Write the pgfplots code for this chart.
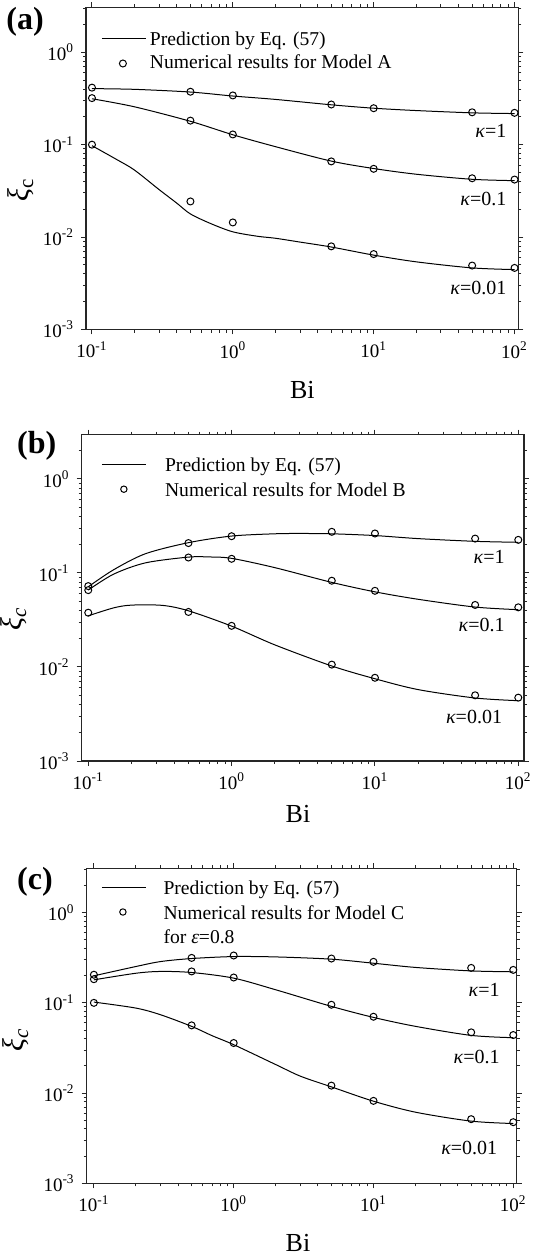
\documentclass[border=0pt]{standalone}
\usepackage{fontspec}
\setmainfont{Liberation Serif}
\usepackage{pgfplots}
\pgfplotsset{compat=1.18}

\pgfplotsset{
 every axis/.append style={
  scale only axis, anchor=south west,
  ymin=0.001,
  xtick={0.1,1,10,100},
  xticklabels={10\textsuperscript{-1},10\textsuperscript{0},10\textsuperscript{1},10\textsuperscript{2}},
  ytick={0.001,0.01,0.1,1},
  yticklabels={10\textsuperscript{-3},10\textsuperscript{-2},10\textsuperscript{-1},10\textsuperscript{0}},
  minor xtick={0.2,0.3,0.4,0.5,0.6,0.7,0.8,0.9,2,3,4,5,6,7,8,9,20,30,40,50,60,70,80,90},
  minor ytick={0.002,0.003,0.004,0.005,0.006,0.007,0.008,0.009,0.02,0.03,0.04,0.05,0.06,0.07,0.08,0.09,0.2,0.3,0.4,0.5,0.6,0.7,0.8,0.9,2,3},
  tick align=outside, major tick length=2.5pt, minor tick length=1.5pt,
  tick style={black!85, line width=0.5pt},
  tick label style={font=\fontsize{9.5}{10}\selectfont},
  axis line style={line width=0.8pt, black!85},
  legend cell align=left,
  legend style={draw=none, fill=none, anchor=north west, inner sep=0pt,
    font=\fontsize{9.8}{11}\selectfont,
    nodes={inner sep=0pt, text height=8pt, text depth=1pt}},
 },
 curve/.style={black, line width=0.5pt, smooth, forget plot},
 pts/.style={only marks, mark=o, mark size=1.75pt, mark options={black, line width=0.5pt, fill=white}, forget plot},
}

\begin{document}
\begin{tikzpicture}
\begin{scope}[x=0.5pt,y=-0.5pt]
\path[use as bounding box] (0,0) rectangle (528,1256);
\end{scope}

% ---------------- panel (a)
\begin{loglogaxis}[at={(43pt,-164.75pt)}, width=216.25pt, height=161pt,
  xmin=0.0907, xmax=106.7, ymax=3.05,
  legend style={at={(0.0347,0.9317)}, row sep=2.5pt}]
\addlegendimage{legend image code/.code={\draw[black,line width=0.5pt] (0pt,0pt) -- (22pt,0pt); \path[draw=none,fill=none] (0pt,0pt) -- (24pt,0pt);}}
\addlegendentry{Prediction by Eq. (57)}
\addlegendimage{legend image code/.code={\path[draw=none,fill=none] (0pt,0pt) -- (24pt,0pt); \path[draw=none] plot[only marks, mark=o, mark size=1.75pt, mark options={draw=black, line width=0.5pt, fill=white}] coordinates {(10.5pt,-0.8pt)};}}
\addlegendentry{Numerical results for Model A}
\addplot[curve] coordinates {(0.1,0.404) (0.2,0.397) (0.5,0.371) (1,0.336) (2,0.309) (5,0.270) (10,0.248) (20,0.234) (50,0.221) (100,0.217)};
\addplot[curve] coordinates {(0.1,0.314) (0.2,0.257) (0.5,0.179) (1,0.128) (2,0.0953) (5,0.0664) (10,0.0552) (20,0.0479) (50,0.0422) (100,0.0408)};
\addplot[curve] coordinates {(0.1,0.0975) (0.15,0.069) (0.2,0.0532) (0.3,0.0326) (0.4,0.0233) (0.5,0.0178) (0.7,0.01396) (1,0.0114) (1.5,0.0102) (2,0.00972) (3,0.00883) (5,0.00781) (10,0.00638) (20,0.0054) (50,0.00464) (100,0.00445)};
\addplot[pts] coordinates {(0.1,0.414) (0.5,0.374) (1,0.341) (5,0.272) (10,0.248) (50,0.224) (100,0.221)};
\addplot[pts] coordinates {(0.1,0.319) (0.5,0.182) (1,0.129) (5,0.0659) (10,0.0548) (50,0.0433) (100,0.0419)};
\addplot[pts] coordinates {(0.1,0.1) (0.5,0.0243) (1,0.0144) (5,0.00794) (10,0.00655) (50,0.00492) (100,0.00464)};
\end{loglogaxis}

% ---------------- panel (b)
\begin{loglogaxis}[at={(40.85pt,-380.5pt)}, width=221.15pt, height=163.25pt,
  xmin=0.090, xmax=109.6, ymax=2.97,
  legend style={at={(0.0436,0.9366)}, row sep=3.3pt}]
\addlegendimage{legend image code/.code={\draw[black,line width=0.5pt] (0pt,0pt) -- (22pt,0pt); \path[draw=none,fill=none] (0pt,0pt) -- (31.6pt,0pt);}}
\addlegendentry{Prediction by Eq. (57)}
\addlegendimage{legend image code/.code={\path[draw=none,fill=none] (0pt,0pt) -- (31.6pt,0pt); \path[draw=none] plot[only marks, mark=o, mark size=1.6pt, mark options={draw=black, line width=0.5pt, fill=white}] coordinates {(11pt,0pt)};}}
\addlegendentry{Numerical results for Model B}
\addplot[curve] coordinates {(0.1,0.0713) (0.15,0.108) (0.25,0.160) (0.5,0.210) (1,0.247) (2,0.261) (3,0.263) (5,0.261) (10,0.250) (20,0.232) (50,0.217) (100,0.212)};
\addplot[curve] coordinates {(0.1,0.0658) (0.15,0.097) (0.25,0.128) (0.5,0.1475) (0.7,0.148) (1,0.143) (2,0.114) (5,0.0794) (10,0.063) (20,0.0525) (50,0.0434) (100,0.0407)};
\addplot[curve] coordinates {(0.1,0.035) (0.15,0.0425) (0.2,0.0455) (0.33,0.0452) (0.5,0.0396) (1,0.0272) (2,0.0172) (5,0.01025) (10,0.0075) (20,0.00575) (50,0.00468) (100,0.00438)};
\addplot[pts] coordinates {(0.1,0.0725) (0.5,0.208) (1,0.246) (5,0.274) (10,0.263) (50,0.232) (100,0.225)};
\addplot[pts] coordinates {(0.1,0.0657) (0.5,0.146) (1,0.1415) (5,0.0827) (10,0.0646) (50,0.0457) (100,0.0431)};
\addplot[pts] coordinates {(0.1,0.0378) (0.5,0.0385) (1,0.0274) (5,0.0106) (10,0.00768) (50,0.0050) (100,0.00472)};
\end{loglogaxis}

% ---------------- panel (c)
\begin{loglogaxis}[at={(43.35pt,-591.65pt)}, width=215pt, height=157.5pt,
  xmin=0.0888, xmax=105.8, ymax=3.1,
  legend style={at={(0.0333,0.9686)}, row sep=3.2pt}]
\addlegendimage{legend image code/.code={\draw[black,line width=0.5pt] (0pt,0pt) -- (22pt,0pt); \path[draw=none,fill=none] (0pt,0pt) -- (30.8pt,0pt);}}
\addlegendentry{Prediction by Eq. (57)}
\addlegendimage{legend image code/.code={\path[draw=none,fill=none] (0pt,0pt) -- (30.8pt,0pt); \path[draw=none] plot[only marks, mark=o, mark size=1.6pt, mark options={draw=black, line width=0.5pt, fill=white}] coordinates {(10.5pt,0pt)};}}
\addlegendentry{Numerical results for Model C}
\addlegendimage{empty legend}
\addlegendentry{for {\itshape ε}=0.8}
\addplot[curve] coordinates {(0.1,0.1995) (0.2,0.253) (0.3,0.287) (0.5,0.310) (1,0.326) (2,0.323) (5,0.305) (10,0.275) (20,0.247) (50,0.226) (100,0.221)};
\addplot[curve] coordinates {(0.1,0.18) (0.2,0.213) (0.3,0.223) (0.5,0.217) (1,0.188) (2,0.1396) (5,0.0914) (10,0.069) (20,0.0549) (50,0.0436) (100,0.0411)};
\addplot[curve] coordinates {(0.1,0.102) (0.2,0.0875) (0.3,0.0738) (0.5,0.0549) (0.7,0.0433) (1,0.0344) (2,0.0207) (3,0.0154) (5,0.01172) (10,0.00813) (20,0.00614) (50,0.00489) (100,0.0046)};
\addplot[pts] coordinates {(0.1,0.205) (0.5,0.315) (1,0.335) (5,0.310) (10,0.285) (50,0.244) (100,0.232)};
\addplot[pts] coordinates {(0.1,0.183) (0.5,0.223) (1,0.191) (5,0.0953) (10,0.0702) (50,0.0471) (100,0.044)};
\addplot[pts] coordinates {(0.1,0.1) (0.5,0.0563) (1,0.0359) (5,0.0121) (10,0.0082) (50,0.00514) (100,0.00476)};
\end{loglogaxis}

\begin{scope}[x=0.5pt,y=-0.5pt]
\node[anchor=base west, inner sep=0pt, font=\fontsize{16}{17}\selectfont\bfseries] at (6,29.6) {(a)};
\node[anchor=base west, inner sep=0pt, font=\fontsize{16}{17}\selectfont\bfseries] at (16.8,453.7) {(b)};
\node[anchor=base west, inner sep=0pt, font=\fontsize{16}{17}\selectfont\bfseries] at (16.8,889.9) {(c)};
\node[anchor=base, inner sep=0pt, font=\fontsize{13}{14}\selectfont] at (302.4,399) {Bi};
\node[anchor=base, inner sep=0pt, font=\fontsize{13}{14}\selectfont] at (298,822.4) {Bi};
\node[anchor=base, inner sep=0pt, font=\fontsize{13}{14}\selectfont] at (298,1251.8) {Bi};
\node[rotate=90, inner sep=0pt, font=\fontsize{15}{16}\selectfont] at (21,190) {{\itshape ξ}\textsubscript{c}};
\node[rotate=90, inner sep=0pt, font=\fontsize{15}{16}\selectfont] at (14,618.6) {{\itshape ξ\textsubscript{c}}};
\node[rotate=90, inner sep=0pt, font=\fontsize{15}{16}\selectfont] at (16,1039.7) {{\itshape ξ\textsubscript{c}}};
\node[anchor=base east, inner sep=0pt, font=\fontsize{10}{11}\selectfont] at (506.7,138) {{\itshape κ}=1};
\node[anchor=base east, inner sep=0pt, font=\fontsize{10}{11}\selectfont] at (506.7,206) {{\itshape κ}=0.1};
\node[anchor=base east, inner sep=0pt, font=\fontsize{10}{11}\selectfont] at (506.7,294.6) {{\itshape κ}=0.01};
\node[anchor=base east, inner sep=0pt, font=\fontsize{10}{11}\selectfont] at (505,563.1) {{\itshape κ}=1};
\node[anchor=base east, inner sep=0pt, font=\fontsize{10}{11}\selectfont] at (505,631.1) {{\itshape κ}=0.1};
\node[anchor=base east, inner sep=0pt, font=\fontsize{10}{11}\selectfont] at (502.4,723) {{\itshape κ}=0.01};
\node[anchor=base east, inner sep=0pt, font=\fontsize{10}{11}\selectfont] at (500,996) {{\itshape κ}=1};
\node[anchor=base east, inner sep=0pt, font=\fontsize{10}{11}\selectfont] at (500,1063.3) {{\itshape κ}=0.1};
\node[anchor=base east, inner sep=0pt, font=\fontsize{10}{11}\selectfont] at (497.6,1154.2) {{\itshape κ}=0.01};
\end{scope}
\end{tikzpicture}
\end{document}
